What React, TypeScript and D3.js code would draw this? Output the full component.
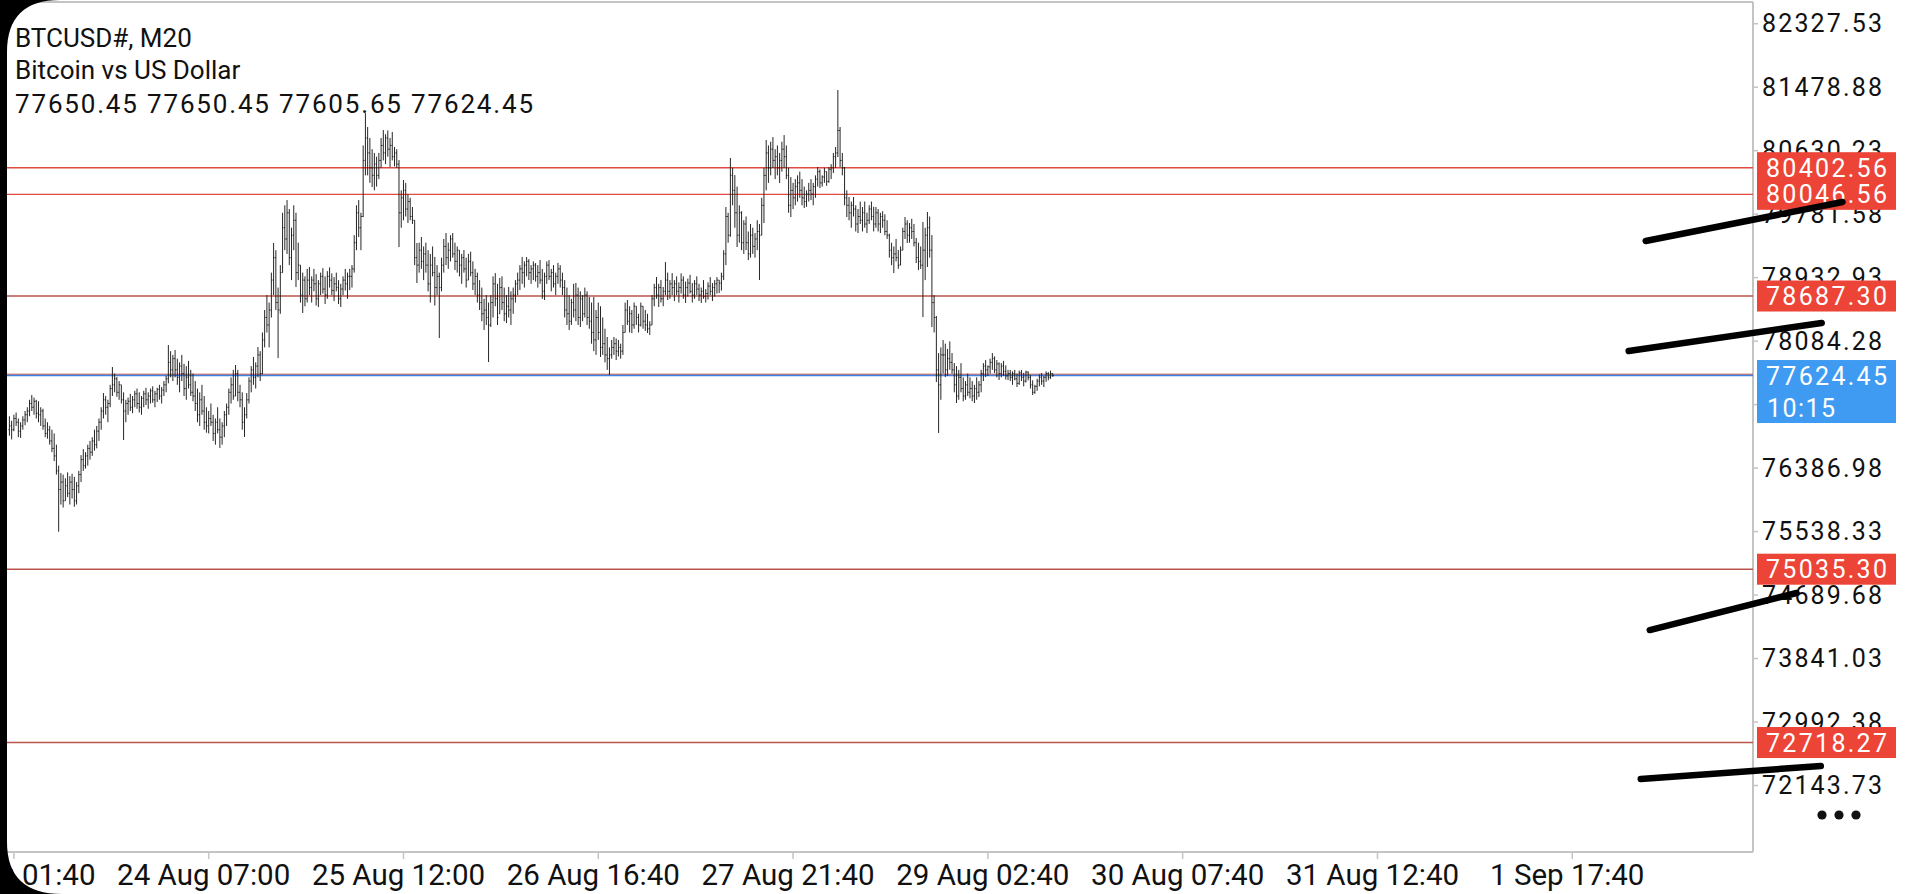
import React from 'react';
import * as d3 from 'd3';

// ---- Data ----
const highs = [
  77080, 77020, 77100, 77130, 77050, 77000, 77080, 77150, 77200,
  77300, 77364, 77330, 77300,
  77280, 77200, 77180, 77050, 77000, 76950, 76900,
  76850, 76700, 76420,
  76320, 76300, 76250, 76330, 76280, 76310, 76270, 76200, 76350,
  76560, 76640, 76600, 76700, 76750, 76800, 76900, 76950, 77050,
  77200, 77390, 77350, 77300, 77500, 77738,
  77650, 77604, 77550, 77500, 77400, 77300,
  77330, 77380, 77350, 77420, 77450, 77400, 77350, 77420, 77460, 77400, 77450, 77480, 77420, 77460, 77500, 77470, 77550, 77620,
  78032, 77950, 77900,
  77966, 77850, 77800, 77900, 77780, 77750, 77820, 77700, 77650,
  77550, 77450, 77400, 77500, 77350, 77200,
  77150, 77250, 77100, 77050, 77200, 77050, 77000, 77150, 77250,
  77450, 77600, 77700, 77765, 77700, 77500,
  77400, 77200, 77390,
  77600, 77750, 77872, 77800, 78005, 77950,
  78200, 78500, 78700, 78600,
  79000, 79396, 79300, 78800, 79100,
  79800, 79900, 79970, 79850, 79600, 79900, 79800, 79400,
  79100, 79000, 78950, 79050,
  79075, 78950, 79050, 78980, 78900, 79000, 79060, 78950, 79020, 79070, 78990, 78940, 79000, 78900, 78850, 78950, 79050, 79000,
  79050, 79100,
  79500, 79900, 79970, 79800,
  80700, 81133,
  80946, 80800, 80650, 80600, 80550,
  80600, 80800, 80906, 80850, 80900, 80800, 80880,
  80679, 80650,
  80505, 80100,
  80238, 80200, 80050, 80000, 79877,
  79700, 79396,
  79400, 79476, 79350, 79400, 79300, 79250, 79350, 79210, 79100,
  79000,
  79200, 79450, 79529, 79400, 79500, 79529, 79400, 79350,
  79300, 79250, 79302, 79200, 79250, 79280, 79150, 79050, 79000,
  78900, 78800, 78650, 78700, 78600,
  78700, 78950, 78994, 78850, 78928, 78950, 78800,
  78700, 78808, 78750, 78800,
  78900, 79000, 79100, 79209, 79150,
  79208, 79180, 79100, 79150, 79128,
  79100, 79168, 79050, 79000, 79150, 79168, 79050, 79100, 79000, 79130, 79100, 79000,
  78900, 78800, 78700, 78650, 78850,
  78861, 78800, 78750, 78700, 78800, 78750, 78674,
  78600, 78674, 78500, 78600, 78550, 78400, 78250,
  78139, 78000,
  78100, 78139, 78120, 78100, 78050, 78300,
  78600, 78634, 78550, 78500, 78600, 78550, 78450, 78600, 78550, 78500, 78450,
  78350,
  78700, 78850, 78941, 78850, 78900, 78808,
  79141, 79000, 78900,
  78994, 78900, 78950, 78870, 78990, 78950, 78880, 78920, 78970, 78860, 78900, 78950, 78850, 78800, 78900, 78780, 78870, 78940, 78860, 78900, 78940,
  78900, 79000,
  79300, 79877, 79800,
  80532, 80400,
  80304, 80150, 79900,
  79820, 79700, 79750, 79550, 79650, 79600, 79529, 79700, 79650,
  80000, 80400, 80772, 80700,
  80750, 80812, 80650, 80700, 80600, 80750, 80839, 80700,
  80400, 80278, 80200, 80250, 80300, 80350,
  80250, 80150, 80100, 80200, 80250, 80200, 80300,
  80411, 80380, 80300, 80400, 80350, 80411, 80450,
  80600, 80679,
  81441,
  80946, 80600,
  80411, 80100,
  80011, 79950, 80011, 79900, 79850, 79950, 79877, 79950, 79800, 79900, 79950, 79880,
  79877, 79850, 79800, 79820, 79780, 79700,
  79520, 79400, 79350, 79450, 79302, 79350,
  79600, 79743, 79700, 79663, 79720, 79650,
  79462, 79400, 79350,
  79676, 79600,
  79810, 79750,
  79502, 78700,
  78420,
  77925, 78000,
  78099, 78050, 77980, 78080, 77925,
  77791, 77750, 77700, 77790, 77600, 77550, 77650, 77600, 77550, 77500, 77600, 77550, 77700,
  77790, 77831, 77760, 77850, 77925,
  77880, 77831, 77800, 77791, 77820, 77760, 77700,
  77698, 77680, 77700, 77650, 77690, 77698, 77660, 77690, 77680,
  77631, 77560, 77500, 77580,
  77640, 77657, 77620, 77680, 77670, 77690, 77650.45,
];

const lows = [
  76820, 76770, 76880, 76950, 76800, 76790, 76900, 76960, 77000,
  77080, 77150, 77100, 77050,
  77000, 76950, 76900, 76800, 76780, 76700, 76600,
  76480, 76300, 75537,
  75900, 75860, 75950, 76000, 75900, 75980, 75870, 75900, 76050,
  76200, 76350, 76380, 76420, 76500, 76550, 76620, 76650, 76750,
  76900, 77050, 77100, 77000, 77200, 77350,
  77400, 77340, 77300, 77250, 76762, 77000,
  77100, 77150, 77120, 77200, 77180, 77130, 77100, 77200, 77230, 77180, 77250, 77260, 77200, 77270, 77300, 77250, 77350, 77400,
  77520, 77600, 77550,
  77600, 77500, 77400, 77550, 77350, 77300, 77450, 77350, 77280,
  77150, 77000, 76950, 77100, 76900, 76860,
  76850, 76950, 76750, 76700, 76850, 76656, 76700, 76800, 76950,
  77100, 77250, 77300, 77350, 77280, 77200,
  76900, 76803, 77050,
  77250, 77400, 77500, 77450, 77600, 77550,
  77640, 78000, 78200, 78000,
  78400, 78700, 78500, 77858, 78450,
  79000, 79300, 79250, 79100, 78900, 79300, 78808, 78900,
  78600, 78460, 78550, 78600,
  78700, 78600, 78750, 78560, 78540, 78700, 78720, 78580, 78650, 78800, 78700, 78620, 78750, 78580, 78540, 78700, 78760, 78650,
  78767, 78800,
  79000, 79300, 79476, 79300,
  79743, 80300,
  80300, 80200, 80144, 80100, 80150,
  80250, 80400, 80500, 80450, 80550, 80411, 80500,
  80420, 80400,
  79342, 79600,
  79700, 79750, 79663, 79700, 79650,
  79100, 78861,
  79000, 79050, 78900, 79000, 78750, 78600, 78950, 78560, 78700,
  78125,
  78750, 79000, 79100, 79050, 79150, 79200, 79035, 79000,
  78950, 78850, 79000, 78800, 78900, 78950, 78767, 78700, 78600,
  78500, 78350, 78233, 78300, 77805,
  78273, 78400, 78550, 78300, 78450, 78500, 78350,
  78326, 78400, 78300, 78450,
  78600, 78700, 78767, 78850, 78800,
  78950, 78901, 78850, 78900, 78880,
  78800, 78850, 78650, 78634, 78850, 78900, 78750, 78800, 78700, 78850, 78800, 78700,
  78400, 78300, 78233, 78300, 78400,
  78350, 78300, 78273, 78350, 78400, 78300, 78250,
  78050, 77950, 77900, 78100, 77872, 77900, 77800,
  77700, 77631,
  77850, 77900, 77831, 77880, 77850, 77900,
  78200, 78300, 78200, 78192, 78250, 78300, 78200, 78280, 78250, 78220, 78192,
  78166,
  78300, 78550, 78650, 78540, 78600, 78550,
  78700, 78634, 78650,
  78700, 78620, 78700, 78600, 78720, 78650, 78594, 78680, 78720, 78600, 78650, 78700, 78620, 78594, 78650, 78600, 78640, 78700, 78620, 78680, 78720,
  78727, 78760,
  78900, 79100, 79400,
  79480, 79900,
  79600, 79342, 79400,
  79300, 79250, 79302, 79168, 79200, 79250, 79200, 79300, 78901,
  79500, 79663, 80100, 80200,
  80300, 80400, 80250, 80300, 80197, 80350, 80400, 80250,
  79800, 79743, 79850, 79900, 79950, 80000,
  79900, 79864, 79880, 79950, 79970, 79900, 80000,
  80150, 80130, 80150, 80200, 80160, 80200, 80250,
  80331, 80400,
  80545,
  80411, 80300,
  79900, 79743,
  79700, 79600, 79750, 79550, 79529, 79650, 79550, 79600, 79529, 79650, 79700, 79550,
  79600, 79550, 79529, 79600, 79500, 79450,
  79200, 79100, 78994, 79150, 79050, 79100,
  79300, 79450, 79396, 79400, 79450, 79350,
  79128, 79035, 79050,
  78406, 78900,
  79075, 79200,
  78273, 78200,
  77537,
  76856, 77300,
  77650, 77604, 77620, 77700, 77650,
  77400, 77257, 77300, 77400, 77280, 77300, 77350, 77320, 77280, 77257, 77300, 77337, 77400,
  77550, 77604, 77620, 77650, 77700,
  77657, 77600, 77564, 77600, 77620, 77570, 77564,
  77550, 77500, 77560, 77470, 77500, 77550, 77480, 77530, 77560,
  77450, 77364, 77380, 77420,
  77480, 77500, 77470, 77540, 77560, 77580, 77605.65,
];

const closes = [
  76950, 76900, 77050, 77000, 76880, 76950, 77030, 77100, 77150,
  77250, 77200, 77280, 77120,
  77100, 77150, 76950, 76850, 76900, 76750, 76650,
  76550, 76350, 76100,
  76200, 75950, 76150, 76050, 76200, 76100, 75950, 76150, 76300,
  76500, 76420, 76550, 76650, 76600, 76750, 76700, 76880, 77000,
  77150, 77300, 77200, 77250, 77450, 77500,
  77580, 77400, 77500, 77300, 77150, 77250,
  77280, 77200, 77300, 77380, 77250, 77200, 77320, 77380, 77300, 77350, 77420, 77300, 77380, 77440, 77350, 77430, 77500, 77580,
  77800, 77700, 77850,
  77700, 77600, 77750, 77650, 77450, 77600, 77500, 77400, 77350,
  77250, 77100, 77300, 77150, 77000, 76950,
  77050, 77000, 76850, 77000, 76900, 76800, 76950, 77100, 77200,
  77400, 77500, 77350, 77650, 77400, 77300,
  77000, 77100, 77300,
  77550, 77700, 77600, 77750, 77900, 77650,
  78100, 78400, 78300, 78500,
  78900, 79200, 78600, 78500, 79000,
  79600, 79450, 79800, 79200, 79500, 79700, 79000, 79100,
  78700, 78900, 78650, 78900,
  78800, 78900, 78850, 78650, 78850, 78950, 78780, 78700, 78950, 78900, 78760, 78850, 78800, 78650, 78780, 78900, 78850, 78950,
  78950, 79050,
  79400, 79800, 79600, 79750,
  80500, 80800,
  80600, 80400, 80300, 80450, 80300,
  80500, 80700, 80600, 80800, 80650, 80700, 80550,
  80600, 80450,
  79800, 80000,
  80100, 79850, 79950, 79750, 79700,
  79200, 79100,
  79300, 79150, 79250, 79100, 78850, 79100, 79000, 78800, 78950,
  78800,
  79100, 79350, 79200, 79300, 79450, 79250, 79150, 79300,
  79100, 79200, 79050, 78900, 79150, 79000, 78850, 78950, 78700,
  78600, 78450, 78500, 78400, 78300,
  78600, 78850, 78650, 78400, 78800, 78600, 78450,
  78550, 78500, 78650, 78700,
  78850, 78900, 79050, 79000, 79100,
  79150, 79000, 79050, 79100, 78950,
  79000, 78900, 78750, 78950, 79100, 78950, 79000, 78850, 78950, 79050, 78900, 78800,
  78500, 78450, 78350, 78600, 78500,
  78700, 78400, 78650, 78450, 78700, 78400, 78350,
  78200, 78100, 78400, 78200, 78000, 78050, 77900,
  77850, 77900,
  78000, 78050, 77950, 78000, 77950, 78200,
  78500, 78350, 78450, 78300, 78550, 78400, 78300, 78550, 78350, 78300, 78250,
  78300,
  78650, 78800, 78700, 78800, 78650, 78750,
  78900, 78750, 78850,
  78800, 78850, 78750, 78800, 78900, 78700, 78800, 78860, 78750, 78700, 78850, 78780, 78700, 78750, 78680, 78720, 78820, 78750, 78800, 78850, 78900,
  78860, 78950,
  79250, 79750, 79500,
  80300, 80100,
  79800, 79500, 79800,
  79400, 79650, 79400, 79250, 79500, 79350, 79450, 79550, 79500,
  79900, 80300, 80600, 80400,
  80650, 80500, 80550, 80400, 80500, 80650, 80550, 80300,
  79900, 80100, 80000, 80150, 80200, 80100,
  80000, 79950, 80050, 80100, 80050, 80150, 80250,
  80350, 80200, 80280, 80350, 80220, 80380, 80400,
  80550, 80600,
  80900,
  80500, 80400,
  80000, 79900,
  79800, 79900, 79850, 79650, 79750, 79700, 79800, 79650, 79700, 79850, 79750, 79650,
  79800, 79650, 79750, 79700, 79550, 79500,
  79300, 79200, 79250, 79200, 79100, 79300,
  79550, 79650, 79500, 79600, 79550, 79400,
  79200, 79150, 79100,
  79300, 79500,
  79600, 79300,
  78600, 78400,
  77700,
  77500, 77900,
  77900, 77700, 77850, 77800, 77700,
  77500, 77350, 77600, 77450, 77350, 77500, 77400, 77450, 77350, 77450, 77400, 77500, 77650,
  77750, 77700, 77740, 77800, 77850,
  77700, 77780, 77650, 77750, 77680, 77620, 77650,
  77600, 77650, 77580, 77520, 77660, 77600, 77550, 77670, 77600,
  77500, 77400, 77480, 77550,
  77600, 77550, 77600, 77650, 77600, 77650.45, 77624.45,
];

const firstOpen = 76900;

const priceTicks = [
  82327.53, 81478.88, 80630.23, 79781.58, 78932.93, 78084.28, 77235.63,
  76386.98, 75538.33, 74689.68, 73841.03, 72992.38, 72143.73,
];

const timeLabels = [
  '23 Aug 01:40', '24 Aug 07:00', '25 Aug 12:00', '26 Aug 16:40', '27 Aug 21:40',
  '29 Aug 02:40', '30 Aug 07:40', '31 Aug 12:40', '1 Sep 17:40',
];
const timeLabelBars = [2, 89, 176, 263, 350, 437, 524, 611, 698];

const levelPrices = [80402.56, 80046.56, 78687.30, 75035.30, 72718.27];
const lastPrice = 77624.45;
const barTimer = '10:15';

const headerLines = ['BTCUSD#, M20', 'Bitcoin vs US Dollar', '77650.45 77650.45 77605.65 77624.45'];

// hand-drawn strokes, as [bar index, price] pairs
const markStrokes = [
  [[730.8, 79423], [818.7, 79944]],
  [[723.2, 77952], [809.4, 78327]],
  [[732.6, 74222], [798.2, 74717]],
  [[728.6, 72231], [809.0, 72404]],
];

// ---- Layout ----
const W = 1920;
const H = 894;
const AXIS_X = 1753;
const PLOT_BOTTOM = 852;
const FONT = 'Roboto, "Noto Sans", sans-serif';

export default function App() {
  const n = Math.min(highs.length, lows.length, closes.length);
  const x = d3.scaleLinear().domain([0, 466]).range([9.4, 1052.8]);
  const y = d3.scaleLinear().domain([72143.73, 82327.53]).range([785.5, 23.7]);

  const barPath = d3.path();
  for (let i = 0; i < n; i++) {
    const xi = x(i);
    const hi = highs[i];
    const lo = lows[i];
    let o = i === 0 ? firstOpen : closes[i - 1];
    o = Math.max(lo, Math.min(hi, o));
    const c = closes[i];
    barPath.moveTo(xi, y(hi));
    barPath.lineTo(xi, y(lo));
    barPath.moveTo(xi - 0.9, y(o));
    barPath.lineTo(xi, y(o));
    barPath.moveTo(xi, y(c));
    barPath.lineTo(xi + 0.9, y(c));
  }

  const levelColor = (i: number) => (i < 2 ? '#e04a40' : '#b9544b');
  const line = d3.line<number[]>().x((d) => x(d[0])).y((d) => y(d[1]));

  return (
    <svg
      width={W}
      height={H}
      viewBox={`0 0 ${W} ${H}`}
      style={{ position: 'absolute', left: 0, top: 0, background: '#fff', fontFamily: FONT }}
    >
      <rect x={0} y={0} width={W} height={H} fill="#ffffff" />

      {/* frame */}
      <line x1={30} x2={AXIS_X} y1={2} y2={2} stroke="#c4c4c4" strokeWidth={2} />
      <line x1={AXIS_X} x2={AXIS_X} y1={2} y2={PLOT_BOTTOM} stroke="#c4c4c4" strokeWidth={2} />
      <line x1={7} x2={AXIS_X} y1={PLOT_BOTTOM} y2={PLOT_BOTTOM} stroke="#c4c4c4" strokeWidth={2} />

      {/* header */}
      <g fill="#111" fontSize={26}>
        <text x={15} y={46.7}>{headerLines[0]}</text>
        <text x={15} y={79}>{headerLines[1]}</text>
        <text x={15} y={113.3} textLength={518} lengthAdjust="spacing">{headerLines[2]}</text>
      </g>

      {/* level lines */}
      {levelPrices.map((p, i) => (
        <line key={p} x1={7} x2={AXIS_X} y1={y(p)} y2={y(p)} stroke={levelColor(i)} strokeWidth={1.4} />
      ))}
      <line x1={7} x2={AXIS_X} y1={y(lastPrice) - 1.3} y2={y(lastPrice) - 1.3} stroke="#c0443c" strokeWidth={1} />
      <line x1={7} x2={AXIS_X} y1={y(lastPrice)} y2={y(lastPrice)} stroke="#3b84e6" strokeWidth={1.6} />

      {/* bars */}
      <path d={barPath.toString()} stroke="#1a1a1a" strokeWidth={0.95} fill="none" />

      {/* price axis */}
      {priceTicks.map((p) => (
        <g key={p}>
          <line x1={AXIS_X} x2={AXIS_X + 5} y1={y(p)} y2={y(p)} stroke="#c4c4c4" strokeWidth={1.5} />
          <text x={1762} y={y(p) + 8.7} fontSize={25} fill="#111" textLength={120} lengthAdjust="spacing">
            {p.toFixed(2)}
          </text>
        </g>
      ))}

      {/* time axis */}
      {timeLabels.map((t, i) => {
        const tx = x(timeLabelBars[i]);
        return (
          <g key={t}>
            <line x1={tx} x2={tx} y1={PLOT_BOTTOM} y2={PLOT_BOTTOM + 7} stroke="#c4c4c4" strokeWidth={1.5} />
            <text x={tx - 5} y={885} fontSize={29.5} fill="#111" textAnchor="middle">{t}</text>
          </g>
        );
      })}

      {/* level labels */}
      {levelPrices.map((p) => (
        <g key={'lbl' + p}>
          <rect x={1757} y={y(p) - 15.5} width={139} height={31} fill="#ec4437" />
          <text x={1766} y={y(p) + 9} fontSize={25} fill="#fff" textLength={121} lengthAdjust="spacing">
            {p.toFixed(2)}
          </text>
        </g>
      ))}

      {/* last price label */}
      <rect x={1757} y={y(lastPrice) - 15.5} width={139} height={63} fill="#3f9bf2" />
      <text x={1766} y={y(lastPrice) + 9.5} fontSize={25} fill="#fff" textLength={121} lengthAdjust="spacing">
        {lastPrice.toFixed(2)}
      </text>
      <text x={1767} y={y(lastPrice) + 41.5} fontSize={25} fill="#fff" textLength={68} lengthAdjust="spacing">
        {barTimer}
      </text>

      {/* hand-drawn marks */}
      {markStrokes.map((s, i) => (
        <path key={'m' + i} d={line(s) || ''} stroke="#000" strokeWidth={6.5} strokeLinecap="round" fill="none" />
      ))}

      {/* menu dots */}
      {[1822, 1839, 1856].map((cx) => (
        <circle key={cx} cx={cx} cy={815} r={4.6} fill="#111" />
      ))}

      {/* screen corners */}
      <path d="M0,0 H60 Q7,0 7,52 V842 Q7,894 62,894 H0 Z" fill="#000" />
    </svg>
  );
}
